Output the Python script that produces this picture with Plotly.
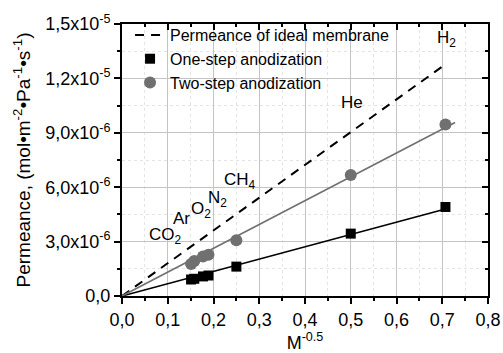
import numpy as np
import plotly.graph_objects as go

# Data
gases = ["CO<sub>2</sub>", "Ar", "O<sub>2</sub>", "N<sub>2</sub>", "CH<sub>4</sub>", "He", "H<sub>2</sub>"]
m_inv_sqrt = [0.151, 0.158, 0.177, 0.189, 0.250, 0.500, 0.707]
one_step = [0.91e-6, 0.95e-6, 1.08e-6, 1.13e-6, 1.62e-6, 3.44e-6, 4.91e-6]
two_step = [1.76e-6, 1.93e-6, 2.18e-6, 2.28e-6, 3.08e-6, 6.67e-6, 9.46e-6]
ideal_x = [0.0, 0.70]
ideal_y = [0.0, 1.265e-5]

# label positions (data coords) for gas names
label_x = [0.094, 0.13, 0.172, 0.208, 0.258, 0.502, 0.709]
label_y = [3.3e-6, 4.27e-6, 4.74e-6, 5.36e-6, 6.36e-6, 1.069e-5, 1.42e-5]

x_tickvals = [0, 0.1, 0.2, 0.3, 0.4, 0.5, 0.6, 0.7, 0.8]
x_ticktext = ["0,0", "0,1", "0,2", "0,3", "0,4", "0,5", "0,6", "0,7", "0,8"]
y_tickvals = [0, 3e-6, 6e-6, 9e-6, 1.2e-5, 1.5e-5]
y_ticktext = ["0,0", "3,0x10<sup>-6</sup>", "6,0x10<sup>-6</sup>", "9,0x10<sup>-6</sup>",
              "1,2x10<sup>-5</sup>", "1,5x10<sup>-5</sup>"]

FONT = "Liberation Sans, Arial, sans-serif"

x = np.array(m_inv_sqrt)
k1 = float(np.sum(x * np.array(one_step)) / np.sum(x * x))
k2 = float(np.sum(x * np.array(two_step)) / np.sum(x * x))
fit1_x = np.array([0.0, 0.707])
fit2_x = np.array([0.0, 0.728])

fig = go.Figure()
fig.add_trace(go.Scatter(x=ideal_x, y=ideal_y, mode="lines",
                         line=dict(color="black", width=2, dash="9px,7px"),
                         name="Permeance of ideal membrane"))
fig.add_trace(go.Scatter(x=fit1_x, y=k1 * fit1_x, mode="lines",
                         line=dict(color="black", width=1.6), showlegend=False))
fig.add_trace(go.Scatter(x=fit2_x, y=k2 * fit2_x, mode="lines",
                         line=dict(color="#707070", width=1.6), showlegend=False))
fig.add_trace(go.Scatter(x=m_inv_sqrt, y=one_step, mode="markers",
                         marker=dict(symbol="square", size=10, color="black"),
                         name="One-step anodization"))
fig.add_trace(go.Scatter(x=m_inv_sqrt, y=two_step, mode="markers",
                         marker=dict(symbol="circle", size=12, color="#707070"),
                         name="Two-step anodization"))
# empty trace so the mirrored inner-tick axes are drawn
fig.add_trace(go.Scatter(x=[], y=[], xaxis="x2", yaxis="y2", showlegend=False))

for g, lx, ly in zip(gases, label_x, label_y):
    fig.add_annotation(x=lx, y=ly, text=g, showarrow=False,
                       font=dict(family=FONT, size=17, color="black"))

grid_major = "#c4c4c4"
fig.update_layout(
    width=503, height=353,
    margin=dict(l=122, r=15, t=24, b=57, autoexpand=False),
    paper_bgcolor="white", plot_bgcolor="white",
    font=dict(family=FONT, size=16, color="black"),
    xaxis=dict(range=[0, 0.8], tickvals=x_tickvals, ticktext=x_ticktext, automargin=False,
               showline=True, linecolor="black", linewidth=2,
               ticks="outside", ticklen=6, tickwidth=1.5, tickcolor="black",
               showgrid=True, gridcolor=grid_major, gridwidth=1, zeroline=False,
               minor=dict(dtick=0.05, ticks="outside", ticklen=3, tickcolor="black",
                          showgrid=True, gridcolor="#e4e4e4", griddash="dot"),
               tickfont=dict(size=18),
               title=dict(text="M<sup>-0.5</sup>", font=dict(size=18), standoff=12)),
    yaxis=dict(range=[0, 1.5e-5], tickvals=y_tickvals, ticktext=y_ticktext, automargin=False,
               showline=True, linecolor="black", linewidth=2,
               ticks="outside", ticklen=6, tickwidth=1.5, tickcolor="black",
               showgrid=True, gridcolor=grid_major, gridwidth=1, zeroline=False,
               minor=dict(dtick=1.5e-6, ticks="outside", ticklen=3, tickcolor="black",
                          showgrid=True, gridcolor="#e4e4e4", griddash="dot"),
               tickfont=dict(size=18),
               title=dict(text="Permeance, (mol•m<sup>-2</sup>•Pa<sup>-1</sup>•s<sup>-1</sup>)",
                          font=dict(size=19), standoff=10)),
    xaxis2=dict(overlaying="x", side="top", range=[0, 0.8], tickvals=x_tickvals, automargin=False,
                showticklabels=False, showline=True, linecolor="black", linewidth=2,
                ticks="inside", ticklen=6, tickwidth=1.5, tickcolor="black",
                showgrid=False, zeroline=False,
                minor=dict(dtick=0.05, ticks="inside", ticklen=3, tickcolor="black")),
    yaxis2=dict(overlaying="y", side="right", anchor="x2", range=[0, 1.5e-5], tickvals=y_tickvals,
                automargin=False,
                showticklabels=False, showline=True, linecolor="black", linewidth=2,
                ticks="inside", ticklen=6, tickwidth=1.5, tickcolor="black",
                showgrid=False, zeroline=False,
                minor=dict(dtick=1.5e-6, ticks="inside", ticklen=3, tickcolor="black")),
    legend=dict(x=0.022, y=1.022, xanchor="left", yanchor="top",
                bgcolor="rgba(0,0,0,0)", font=dict(size=16), tracegroupgap=0,
                itemwidth=30),
    showlegend=True,
)

fig.write_html("out.html", config={"displayModeBar": False},
               post_script="document.body.style.margin='0';")
